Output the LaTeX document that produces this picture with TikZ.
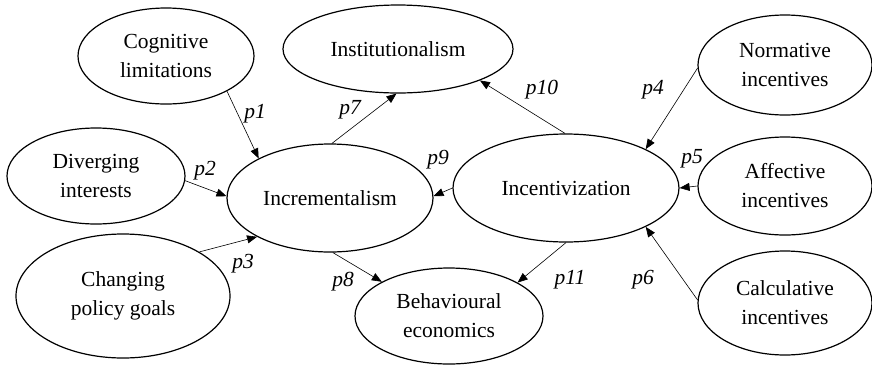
\documentclass[tikz,border=0pt]{standalone}
\usepackage{fontspec}
\setmainfont{Liberation Serif}
\usepackage{tikz}
\usetikzlibrary{arrows.meta,shapes.geometric}

\begin{document}
\begin{tikzpicture}[x=1pt,y=-1pt,every node/.style={font=\fontsize{21.5}{29}\selectfont,align=center},
  c/.style={draw,ellipse,line width=1.2pt,inner sep=0pt},
  a/.style={-{Triangle[length=10pt,width=8pt]},line width=0.6pt},
  l/.style={font=\fontsize{21.5}{29}\selectfont\itshape}]
  \useasboundingbox (0,0) rectangle (872,365);
  % left side
  \node[c,minimum width=176pt,minimum height=96pt] (cog) at (166,56) {Cognitive\\limitations};
  \node[c,minimum width=178pt,minimum height=96pt] (div) at (96,176) {Diverging\\interests};
  \node[c,minimum width=214pt,minimum height=124pt] (chg) at (123,296) {Changing\\policy goals};
  % middle
  \node[c,minimum width=206pt,minimum height=108pt] (incr) at (330,198) {Incrementalism};
  \node[c,minimum width=230pt,minimum height=88pt] (inst) at (398,49) {Institutionalism};
  \node[c,minimum width=188pt,minimum height=96pt] (beh) at (449,316) {Behavioural\\economics};
  \node[c,minimum width=226pt,minimum height=108pt] (incv) at (566,188) {Incentivization};
  % right side
  \node[c,minimum width=174pt,minimum height=100pt] (nor) at (785,65) {Normative\\incentives};
  \node[c,minimum width=174pt,minimum height=98pt] (aff) at (785,186) {Affective\\incentives};
  \node[c,minimum width=174pt,minimum height=104pt] (cal) at (785,303) {Calculative\\incentives};
  % paths
  \draw[a] (cog.-30) -- (incr.151);
  \draw[a] (div.-3) -- (incr.179);
  \draw[a] (chg.30) -- (incr.208);
  \draw[a] (incr.88) -- (inst.268);
  \draw[a] (incr.273) -- (beh.153);
  \draw[a] (incv.180) -- (incr.1);
  \draw[a] (incv.91) -- (inst.339);
  \draw[a] (incv.270) -- (beh.26);
  \draw[a] (nor.182) -- (incv.26);
  \draw[a] (aff.180) -- (incv.0);
  \draw[a] (cal.178) -- (incv.334);
  % labels
  \node[l] (lp1) at (255,114) {p1};
  \node[l] (lp2) at (205,171) {p2};
  \node[l] (lp3) at (243,264) {p3};
  \node[l] (lp4) at (653,90) {p4};
  \node[l] (lp5) at (692,159) {p5};
  \node[l] (lp6) at (643,280) {p6};
  \node[l] (lp7) at (350,110) {p7};
  \node[l] (lp8) at (343,282) {p8};
  \node[l] (lp9) at (438,160) {p9};
  \node[l] (lp10) at (542,90) {p10};
  \node[l] (lp11) at (570,280) {p11};
\end{tikzpicture}
\end{document}
